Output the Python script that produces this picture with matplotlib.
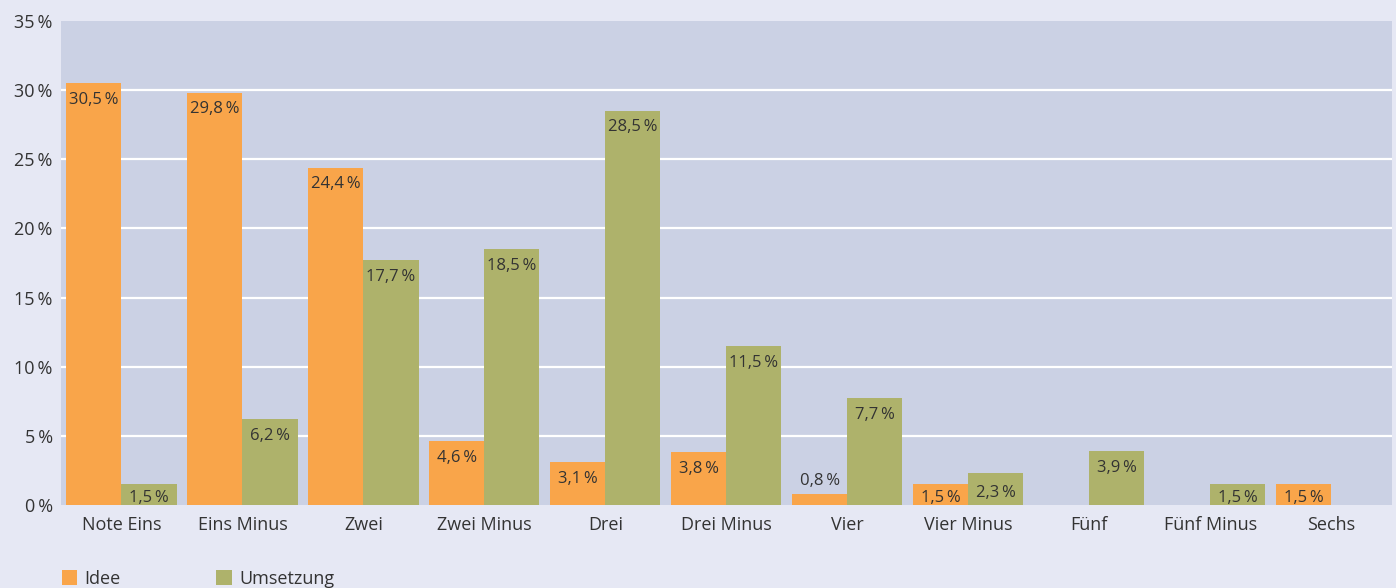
import numpy as np
import matplotlib.pyplot as plt

categories = ['Note Eins', 'Eins Minus', 'Zwei', 'Zwei Minus', 'Drei', 'Drei Minus',
              'Vier', 'Vier Minus', 'Fünf', 'Fünf Minus', 'Sechs']
idee = [30.5, 29.8, 24.4, 4.6, 3.1, 3.8, 0.8, 1.5, 0, 0, 1.5]
umsetzung = [1.5, 6.2, 17.7, 18.5, 28.5, 11.5, 7.7, 2.3, 3.9, 1.5, 0]
yticks = [0, 5, 10, 15, 20, 25, 30, 35]

plt.rcParams['font.family'] = ['Open Sans', 'DejaVu Sans']
txt = '#333333'
orange = '#f9a54a'
green = '#aeb26b'

fig = plt.figure(figsize=(13.96, 5.88), dpi=100, facecolor='#e6e8f4')
ax = fig.add_axes([0.0437, 0.1412, 0.9533, 0.8231], facecolor='#cbd1e4')

x = np.arange(len(categories))
w = 0.455
b1 = ax.bar(x - w/2, idee, w, color=orange, label='Idee', zorder=3)
b2 = ax.bar(x + w/2, umsetzung, w, color=green, label='Umsetzung', zorder=3)

def fmt(v):
    return ('%.1f' % v).replace('.', ',') + '\u2009%'

for bars, vals in ((b1, idee), (b2, umsetzung)):
    for r, v in zip(bars, vals):
        if v <= 0:
            continue
        cx = r.get_x() + r.get_width()/2
        if v < 1:
            ax.text(cx, v + 0.35, fmt(v), ha='center', va='bottom', fontsize=12, color=txt, zorder=4)
        elif v < 2.5:
            ax.text(cx, v/2 - 0.25, fmt(v), ha='center', va='center', fontsize=12, color=txt, zorder=4)
        else:
            ax.text(cx, v - 1.2, fmt(v), ha='center', va='center', fontsize=12, color=txt, zorder=4)

ax.set_xlim(-0.5, len(categories) - 0.5)
ax.set_ylim(0, 35)
ax.set_yticks(yticks)
ax.set_yticklabels(['%d\u2009%%' % t for t in yticks], fontsize=13, color=txt)
ax.set_xticks(x)
ax.set_xticklabels(categories, fontsize=13, color=txt)
ax.tick_params(length=0)
ax.tick_params(axis='y', pad=6)
ax.tick_params(axis='x', pad=8)
for t in yticks[1:-1]:
    ax.axhline(t, color='white', lw=1.6, zorder=1)
for s in ax.spines.values():
    s.set_visible(False)

leg = fig.legend(handles=[b1, b2], loc='upper left', bbox_to_anchor=(0.0444, 0.031),
                 ncol=2, frameon=False, fontsize=13, handlelength=0.85, handleheight=0.85,
                 handletextpad=0.4, columnspacing=5.3, borderpad=0, borderaxespad=0,
                 labelcolor=txt)

fig.savefig('out.png', dpi=100, facecolor=fig.get_facecolor())
